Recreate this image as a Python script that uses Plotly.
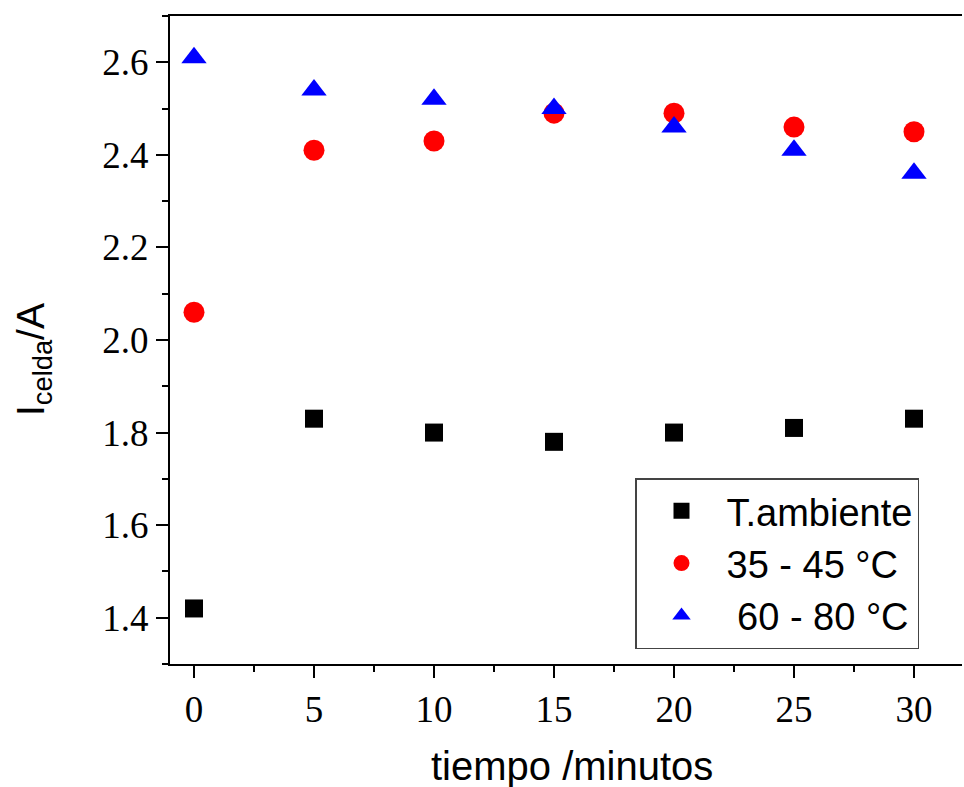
import plotly.graph_objects as go

tiempo = [0, 5, 10, 15, 20, 25, 30]
t_ambiente = [1.42, 1.83, 1.80, 1.78, 1.80, 1.81, 1.83]
t_35_45 = [2.06, 2.41, 2.43, 2.49, 2.49, 2.46, 2.45]
t_60_80 = [2.61, 2.54, 2.52, 2.50, 2.46, 2.41, 2.36]

names = ["T.ambiente", "35 - 45 °C", "\u00a060 - 80 °C"]

W, H = 964, 787
L, R, T, B = 170, 2, 16, 123
pw, ph = W - L - R, H - T - B

fig = go.Figure()
fig.add_trace(go.Scatter(x=tiempo, y=t_ambiente, mode="markers", name=names[0],
                         marker=dict(symbol="square", size=18, color="#000000")))
fig.add_trace(go.Scatter(x=tiempo, y=t_35_45, mode="markers", name=names[1],
                         marker=dict(symbol="circle", size=21, color="#FF0000")))
fig.add_trace(go.Scatter(x=tiempo, y=t_60_80, mode="markers", name=names[2],
                         marker=dict(symbol="triangle-up", size=22, color="#0000FF")))

axis_common = dict(
    showgrid=False, zeroline=False, showline=True, linecolor="black", linewidth=2,
    ticks="outside", ticklen=12, tickwidth=2, tickcolor="black",
    tickfont=dict(family="Liberation Serif", size=37, color="black"),
)

fig.update_xaxes(range=[-1, 32], tickmode="array", tickvals=[0, 5, 10, 15, 20, 25, 30],
                 minor=dict(dtick=2.5, tick0=0, ticks="outside", ticklen=6, tickwidth=2, tickcolor="black"),
                 mirror=True, **axis_common)
fig.update_yaxes(range=[1.3, 2.7], tickmode="array", tickvals=[1.4, 1.6, 1.8, 2.0, 2.2, 2.4, 2.6],
                 ticktext=["1.4", "1.6", "1.8", "2.0", "2.2", "2.4", "2.6"],
                 minor=dict(dtick=0.1, tick0=1.3, ticks="outside", ticklen=6, tickwidth=2, tickcolor="black"),
                 **axis_common)

fig.add_annotation(text="tiempo /minutos", xref="paper", yref="paper",
                   x=(572 - L) / pw, y=-(766 - (H - B)) / ph, xanchor="center", yanchor="middle",
                   showarrow=False, font=dict(family="Liberation Sans", size=40, color="black"))
fig.add_annotation(text="I<sub>celda</sub>/A", xref="paper", yref="paper",
                   x=-(L - 33) / pw, y=((H - B) - 360) / ph, xanchor="center", yanchor="middle",
                   textangle=-90, showarrow=False,
                   font=dict(family="Liberation Sans", size=39, color="black"))

fig.update_layout(
    width=W, height=H,
    margin=dict(l=L, r=R, t=T, b=B),
    plot_bgcolor="white", paper_bgcolor="white",
    legend=dict(x=(635 - L) / pw, y=((H - B) - 478) / ph, xanchor="left", yanchor="top",
                bgcolor="white", bordercolor="#444444", borderwidth=1.5,
                font=dict(family="Liberation Sans", size=38, color="black"),
                itemwidth=80, tracegroupgap=0),
    showlegend=True,
)

fig.write_html("out.html")
